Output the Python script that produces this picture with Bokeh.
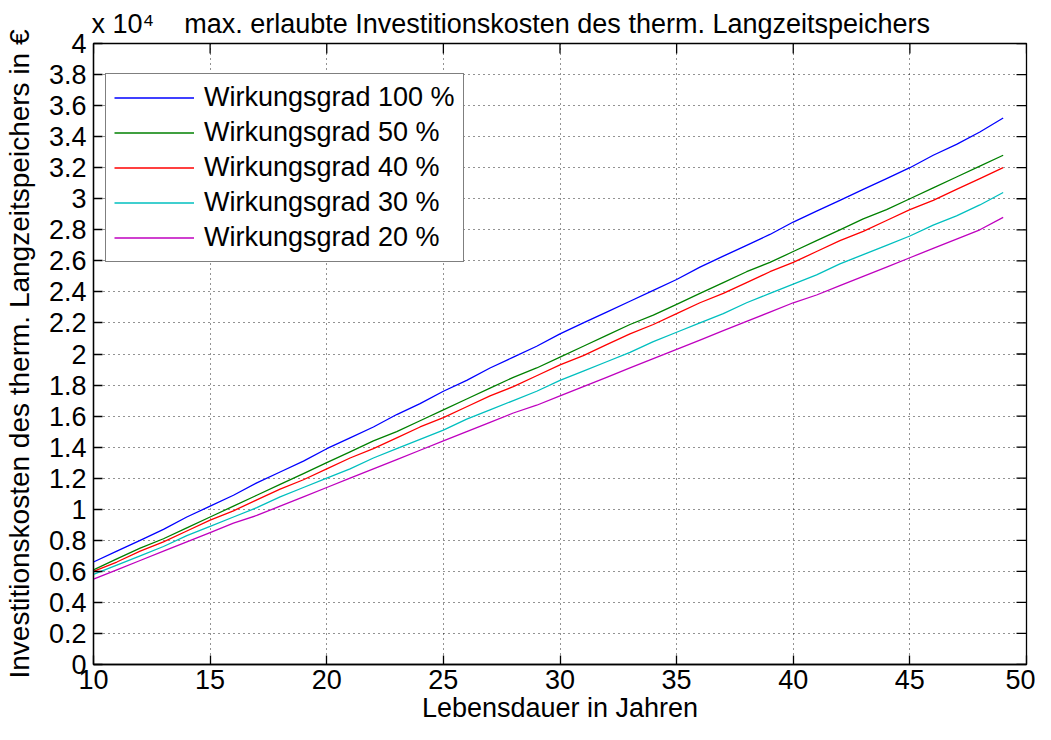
import math
from bokeh.plotting import figure
from bokeh.models import FixedTicker, NumeralTickFormatter, Legend, LegendItem, Title
from bokeh.embed import file_html
from bokeh.resources import INLINE

# ---- data (cost values in units of 10^4 EUR) ----
years = list(range(10, 50))

eff_100 = [0.66, 0.73, 0.80, 0.87, 0.95, 1.02, 1.09, 1.17, 1.24, 1.31,
           1.39, 1.46, 1.53, 1.61, 1.68, 1.76, 1.83, 1.91, 1.98, 2.05,
           2.13, 2.20, 2.27, 2.34, 2.41, 2.48, 2.56, 2.63, 2.70, 2.77,
           2.85, 2.92, 2.99, 3.06, 3.13, 3.20, 3.28, 3.35, 3.43, 3.52]
eff_50 = [0.61, 0.68, 0.75, 0.81, 0.88, 0.95, 1.02, 1.09, 1.16, 1.23,
          1.30, 1.37, 1.44, 1.50, 1.57, 1.64, 1.71, 1.78, 1.85, 1.91,
          1.98, 2.05, 2.12, 2.19, 2.25, 2.32, 2.39, 2.46, 2.53, 2.59,
          2.66, 2.73, 2.80, 2.87, 2.93, 3.00, 3.07, 3.14, 3.21, 3.28]
eff_40 = [0.60, 0.66, 0.73, 0.79, 0.86, 0.93, 0.99, 1.06, 1.13, 1.19,
          1.26, 1.33, 1.39, 1.46, 1.53, 1.59, 1.66, 1.73, 1.79, 1.86,
          1.93, 1.99, 2.06, 2.13, 2.19, 2.26, 2.33, 2.39, 2.46, 2.53,
          2.59, 2.66, 2.73, 2.79, 2.86, 2.93, 2.99, 3.06, 3.13, 3.20]
eff_30 = [0.58, 0.64, 0.70, 0.76, 0.83, 0.89, 0.95, 1.01, 1.08, 1.14,
          1.20, 1.26, 1.33, 1.39, 1.45, 1.51, 1.58, 1.64, 1.70, 1.76,
          1.83, 1.89, 1.95, 2.01, 2.08, 2.14, 2.20, 2.26, 2.33, 2.39,
          2.45, 2.51, 2.58, 2.64, 2.70, 2.76, 2.83, 2.89, 2.96, 3.04]
eff_20 = [0.55, 0.61, 0.67, 0.73, 0.79, 0.85, 0.91, 0.96, 1.02, 1.08,
          1.14, 1.20, 1.26, 1.32, 1.38, 1.44, 1.50, 1.56, 1.62, 1.67,
          1.73, 1.79, 1.85, 1.91, 1.97, 2.03, 2.09, 2.15, 2.21, 2.27,
          2.33, 2.38, 2.44, 2.50, 2.56, 2.62, 2.68, 2.74, 2.80, 2.88]

series_labels = ["Wirkungsgrad 100 %", "Wirkungsgrad 50 %", "Wirkungsgrad 40 %",
                 "Wirkungsgrad 30 %", "Wirkungsgrad 20 %"]
series_values = [eff_100, eff_50, eff_40, eff_30, eff_20]
series_colors = ["#0000ff", "#008000", "#ff0000", "#00bfbf", "#bf00bf"]

x_ticks = [10, 15, 20, 25, 30, 35, 40, 45, 50]
y_ticks = [0, 0.2, 0.4, 0.6, 0.8, 1, 1.2, 1.4, 1.6, 1.8, 2, 2.2, 2.4, 2.6,
           2.8, 3, 3.2, 3.4, 3.6, 3.8, 4]
x_min, x_max = 10, 50
y_min, y_max = 0, 4

exponent_text = "x 10\u2074"
title_text = "max. erlaubte Investitionskosten des therm. Langzeitspeichers"
x_label = "Lebensdauer in Jahren"
y_label = "Investitionskosten des therm. Langzeitspeichers in \u20ac"

FONT = "Liberation Sans"
FS = "27px"

p = figure(width=1035, height=724, x_range=(x_min, x_max), y_range=(y_min, y_max),
           output_backend="svg", toolbar_location=None,
           min_border_left=89, min_border_right=9, min_border_top=43,
           min_border_bottom=60)
p.outline_line_color = "black"
p.outline_line_width = 1.3
p.background_fill_color = "white"
p.border_fill_color = "white"

# title line: exponent of the y axis, then the title
p.title.text = exponent_text + "\u00a0\u00a0\u00a0\u00a0" + title_text
p.title.align = "left"
p.title.offset = -2
p.title.text_font = FONT
p.title.text_font_size = FS
p.title.text_font_style = "normal"
p.title.text_color = "black"
p.title.standoff = 9

# main axes
for ax in (p.xaxis[0], p.yaxis[0]):
    ax.major_tick_in = 9
    ax.major_tick_out = 0
    ax.minor_tick_in = 0
    ax.minor_tick_out = 0
    ax.axis_line_color = "black"
    ax.axis_line_width = 1.3
    ax.major_tick_line_color = "black"
    ax.major_tick_line_width = 1.3
    ax.major_label_text_font = FONT
    ax.major_label_text_font_size = FS
    ax.major_label_text_color = "black"
    ax.axis_label_text_font = FONT
    ax.axis_label_text_font_size = FS
    ax.axis_label_text_font_style = "normal"
    ax.axis_label_text_color = "black"

p.xaxis[0].ticker = FixedTicker(ticks=x_ticks)
p.yaxis[0].ticker = FixedTicker(ticks=y_ticks)
p.yaxis[0].formatter = NumeralTickFormatter(format="0.[0]")
p.yaxis[0].axis_label = y_label
p.yaxis[0].axis_label_text_font_size = "28px"
p.xaxis[0].major_label_standoff = 5
p.yaxis[0].major_label_standoff = 7
p.yaxis[0].axis_label_standoff = 11

# x axis label as a title below the axis
p.add_layout(Title(text=x_label, align="center", vertical_align="bottom",
                   text_font=FONT, text_font_size=FS, text_font_style="normal",
                   text_color="black", standoff=-2), "below")

# inward ticks on the right and top edges of the box (half of each dash is clipped)
p.scatter([x_max] * len(y_ticks), y_ticks, marker="dash", size=20,
          line_color="black", line_width=1.3)
p.scatter(x_ticks, [y_max] * len(x_ticks), marker="dash", size=20,
          angle=math.pi / 2, line_color="black", line_width=1.3)

# grid
for g in (p.xgrid[0], p.ygrid[0]):
    g.grid_line_color = "black"
    g.grid_line_dash = "1 4"
    g.grid_line_width = 1
    g.grid_line_alpha = 0.85
p.xgrid[0].ticker = FixedTicker(ticks=x_ticks)
p.ygrid[0].ticker = FixedTicker(ticks=y_ticks)

items = []
for lab, vals, col in zip(series_labels, series_values, series_colors):
    r = p.line(years, vals, line_color=col, line_width=1.3)
    items.append(LegendItem(label=lab, renderers=[r]))

legend = Legend(items=items, location=(12, 402))
legend.label_text_font = FONT
legend.label_text_font_size = FS
legend.label_text_color = "black"
legend.label_height = 31
legend.glyph_height = 31
legend.glyph_width = 80
legend.label_standoff = 10
legend.spacing = 4
legend.padding = 8
legend.margin = 0
legend.border_line_color = "black"
legend.border_line_width = 1.3
legend.background_fill_color = "white"
legend.background_fill_alpha = 1
p.add_layout(legend)

open("out.html", "w").write(file_html(p, INLINE))
